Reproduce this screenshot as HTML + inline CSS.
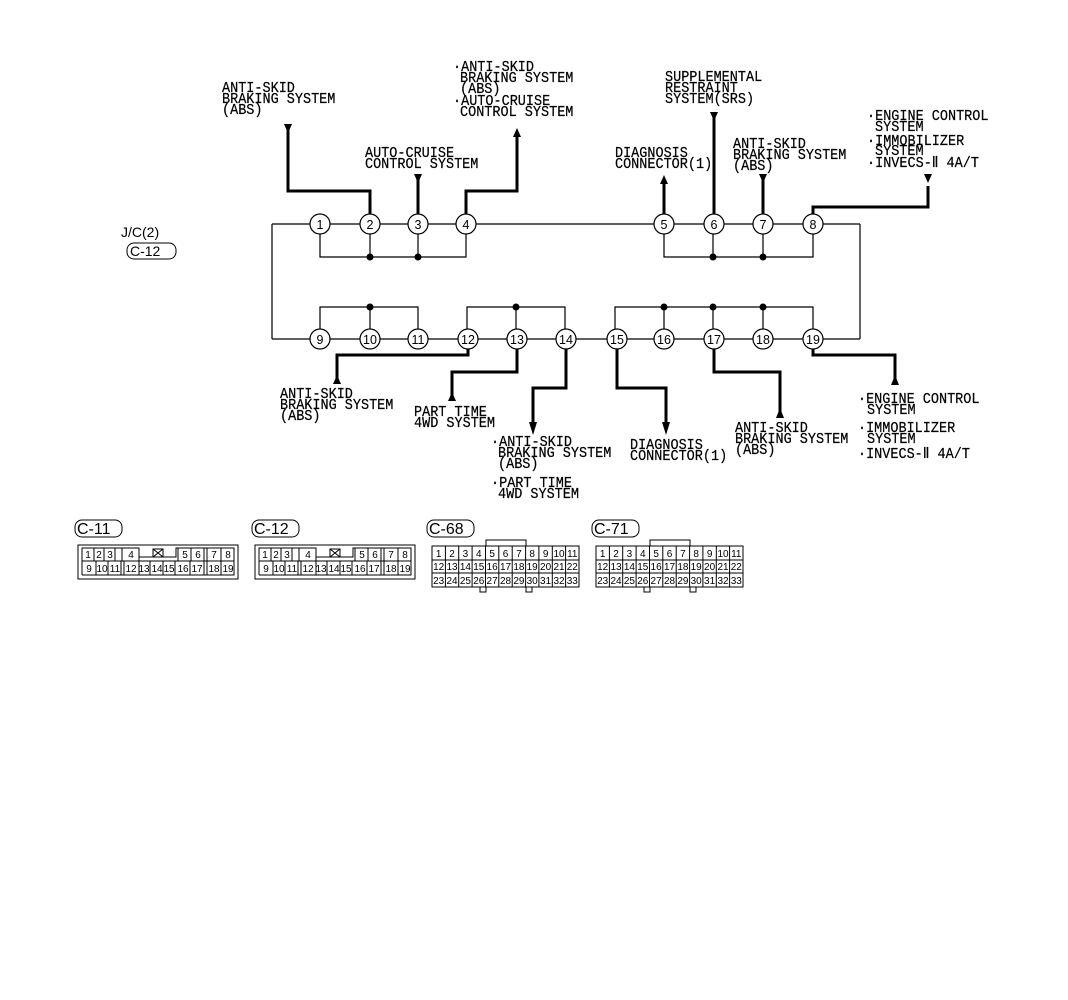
<!DOCTYPE html>
<html><head><meta charset="utf-8">
<style>
html,body{margin:0;padding:0;background:#fff;}
svg{display:block;}
text{font-family:"Liberation Mono",monospace;font-size:13.5px;fill:#000;stroke:#000;stroke-width:0.2;transform-box:fill-box;transform-origin:0 80%;transform:scaleY(1.1);}
.s{font-family:"Liberation Sans",sans-serif;font-size:14px;stroke:none;transform:none;}
.c{font-family:"Liberation Sans",sans-serif;font-size:10px;text-anchor:middle;stroke:none;transform:none;}
.n{font-family:"Liberation Sans",sans-serif;font-size:12.5px;text-anchor:middle;stroke:none;transform:none;}
</style></head><body>
<svg width="1068" height="1000" viewBox="0 0 1068 1000" xmlns="http://www.w3.org/2000/svg">
<g fill="none" stroke="#000" stroke-width="1.2">
 <line x1="272" y1="224" x2="860" y2="224"/>
 <line x1="272" y1="224" x2="272" y2="339"/>
 <line x1="860" y1="224" x2="860" y2="339"/>
 <line x1="272" y1="339" x2="860" y2="339"/>
 <polyline points="320,224 320,257 466,257 466,224"/>
 <line x1="370" y1="224" x2="370" y2="257"/>
 <line x1="418" y1="224" x2="418" y2="257"/>
 <polyline points="664,224 664,257 813,257 813,224"/>
 <line x1="713" y1="224" x2="713" y2="257"/>
 <line x1="763" y1="224" x2="763" y2="257"/>
 <polyline points="320,339 320,307 418,307 418,339"/>
 <line x1="370" y1="307" x2="370" y2="339"/>
 <polyline points="467,339 467,307 565,307 565,339"/>
 <line x1="516" y1="307" x2="516" y2="339"/>
 <polyline points="615,339 615,307 813,307 813,339"/>
 <line x1="664" y1="307" x2="664" y2="339"/>
 <line x1="713" y1="307" x2="713" y2="339"/>
 <line x1="763" y1="307" x2="763" y2="339"/>
</g>
<g fill="#000">
 <circle cx="370" cy="257" r="3.5"/><circle cx="418" cy="257" r="3.5"/>
 <circle cx="713" cy="257" r="3.5"/><circle cx="763" cy="257" r="3.5"/>
 <circle cx="370" cy="307" r="3.5"/><circle cx="516" cy="307" r="3.5"/>
 <circle cx="664" cy="307" r="3.5"/><circle cx="713" cy="307" r="3.5"/><circle cx="763" cy="307" r="3.5"/>
</g>
<g fill="none" stroke="#000" stroke-width="3">
 <polyline points="370,214 370,191 288,191 288,128"/>
 <line x1="418" y1="214" x2="418" y2="178"/>
 <polyline points="466,214 466,191 517,191 517,134"/>
 <line x1="664" y1="214" x2="664" y2="182"/>
 <line x1="714" y1="214" x2="714" y2="115"/>
 <line x1="763" y1="214" x2="763" y2="178"/>
 <polyline points="813,214 813,207 928,207 928,186"/>
 <polyline points="468,349 468,355 337,355 337,382"/>
 <polyline points="517,349 517,372 452,372 452,398"/>
 <polyline points="566,349 566,388 533,388 533,426"/>
 <polyline points="617,349 617,388 666,388 666,426"/>
 <polyline points="714,349 714,372 780,372 780,414"/>
 <polyline points="813,349 813,355 895,355 895,381"/>
</g>
<g fill="#000">
 <polygon points="284,124 292,124 288,133"/>
 <polygon points="414,174 422,174 418,183"/>
 <polygon points="513,137 521,137 517,128"/>
 <polygon points="660,184 668,184 664,175"/>
 <polygon points="710,112 718,112 714,121"/>
 <polygon points="759,174 767,174 763,183"/>
 <polygon points="924,174 932,174 928,183"/>
 <polygon points="333,384 341,384 337,375"/>
 <polygon points="448,401 456,401 452,392"/>
 <polygon points="529,422 537,422 533,435"/>
 <polygon points="662,422 670,422 666,435"/>
 <polygon points="776,418 784,418 780,408"/>
 <polygon points="891,385 899,385 895,375"/>
</g>
<g fill="#fff" stroke="#000" stroke-width="1.2">
 <circle cx="320" cy="224" r="10"/><circle cx="370" cy="224" r="10"/><circle cx="418" cy="224" r="10"/><circle cx="466" cy="224" r="10"/>
 <circle cx="664" cy="224" r="10"/><circle cx="714" cy="224" r="10"/><circle cx="763" cy="224" r="10"/><circle cx="813" cy="224" r="10"/>
 <circle cx="320" cy="339" r="10"/><circle cx="370" cy="339" r="10"/><circle cx="418" cy="339" r="10"/><circle cx="468" cy="339" r="10"/>
 <circle cx="517" cy="339" r="10"/><circle cx="566" cy="339" r="10"/><circle cx="617" cy="339" r="10"/><circle cx="664" cy="339" r="10"/>
 <circle cx="714" cy="339" r="10"/><circle cx="763" cy="339" r="10"/><circle cx="813" cy="339" r="10"/>
</g>
<g>
 <text class="n" x="320" y="229">1</text><text class="n" x="370" y="229">2</text><text class="n" x="418" y="229">3</text><text class="n" x="466" y="229">4</text>
 <text class="n" x="664" y="229">5</text><text class="n" x="714" y="229">6</text><text class="n" x="763" y="229">7</text><text class="n" x="813" y="229">8</text>
 <text class="n" x="320" y="344">9</text><text class="n" x="370" y="344">10</text><text class="n" x="418" y="344">11</text><text class="n" x="468" y="344">12</text>
 <text class="n" x="517" y="344">13</text><text class="n" x="566" y="344">14</text><text class="n" x="617" y="344">15</text><text class="n" x="664" y="344">16</text>
 <text class="n" x="714" y="344">17</text><text class="n" x="763" y="344">18</text><text class="n" x="813" y="344">19</text>
</g>
<text x="222" y="92">ANTI-SKID</text><text x="222" y="103">BRAKING SYSTEM</text><text x="222" y="114">(ABS)</text>
<text x="453" y="71">·ANTI-SKID</text><text x="460" y="82">BRAKING SYSTEM</text><text x="460" y="93">(ABS)</text>
<text x="453" y="105">·AUTO-CRUISE</text><text x="460" y="116">CONTROL SYSTEM</text>
<text x="365" y="157">AUTO-CRUISE</text><text x="365" y="168">CONTROL SYSTEM</text>
<text x="665" y="81">SUPPLEMENTAL</text><text x="665" y="92">RESTRAINT</text><text x="665" y="103">SYSTEM(SRS)</text>
<text x="615" y="157">DIAGNOSIS</text><text x="615" y="168">CONNECTOR(1)</text>
<text x="733" y="148">ANTI-SKID</text><text x="733" y="159">BRAKING SYSTEM</text><text x="733" y="170">(ABS)</text>
<text x="867" y="120">·ENGINE CONTROL</text><text x="875" y="131">SYSTEM</text>
<text x="867" y="145">·IMMOBILIZER</text><text x="875" y="155">SYSTEM</text>
<text x="867" y="167">·INVECS-Ⅱ 4A/T</text>
<text class="s" x="121" y="237">J/C(2)</text>
<rect x="127" y="243" width="49" height="16" rx="7" fill="none" stroke="#000" stroke-width="1"/>
<text class="s" x="130" y="256">C-12</text>
<text x="280" y="398">ANTI-SKID</text><text x="280" y="409">BRAKING SYSTEM</text><text x="280" y="420">(ABS)</text>
<text x="414" y="416">PART TIME</text><text x="414" y="427">4WD SYSTEM</text>
<text x="491" y="446">·ANTI-SKID</text><text x="498" y="457">BRAKING SYSTEM</text><text x="498" y="468">(ABS)</text>
<text x="491" y="487">·PART TIME</text><text x="498" y="498">4WD SYSTEM</text>
<text x="630" y="449">DIAGNOSIS</text><text x="630" y="460">CONNECTOR(1)</text>
<text x="735" y="432">ANTI-SKID</text><text x="735" y="443">BRAKING SYSTEM</text><text x="735" y="454">(ABS)</text>
<text x="858" y="403">·ENGINE CONTROL</text><text x="867" y="414">SYSTEM</text>
<text x="858" y="432">·IMMOBILIZER</text><text x="867" y="443">SYSTEM</text>
<text x="858" y="458">·INVECS-Ⅱ 4A/T</text>

<g fill="none" stroke="#000" stroke-width="1">
 <rect x="75" y="520" width="47" height="17" rx="7"/>
 <rect x="252" y="520" width="47" height="17" rx="7"/>
 <rect x="427" y="520" width="47" height="17" rx="7"/>
 <rect x="592" y="520" width="47" height="17" rx="7"/>
</g>
<text class="s" x="77" y="534" style="font-size:16px">C-11</text>
<text class="s" x="254" y="534" style="font-size:16px">C-12</text>
<text class="s" x="429" y="534" style="font-size:16px">C-68</text>
<text class="s" x="594" y="534" style="font-size:16px">C-71</text>

<g fill="none" stroke="#000" stroke-width="1">
 <rect x="78" y="545" width="160" height="34"/>
 <polyline points="82,575 82,548 139,548 139,557 176,557 176,548 234,548 234,575 82,575"/>
 <line x1="82" y1="561" x2="234" y2="561"/>
 <line x1="94" y1="548" x2="94" y2="561"/><line x1="104" y1="548" x2="104" y2="561"/><line x1="115" y1="548" x2="115" y2="561"/>
 <line x1="122" y1="548" x2="122" y2="561"/><line x1="139" y1="548" x2="139" y2="575"/>
 <line x1="178" y1="548" x2="178" y2="561"/><line x1="191" y1="548" x2="191" y2="561"/><line x1="204" y1="548" x2="204" y2="575"/>
 <line x1="207" y1="548" x2="207" y2="575"/><line x1="221" y1="548" x2="221" y2="575"/>
 <line x1="96" y1="561" x2="96" y2="575"/><line x1="108" y1="561" x2="108" y2="575"/><line x1="121" y1="561" x2="121" y2="575"/>
 <line x1="124" y1="561" x2="124" y2="575"/><line x1="150" y1="561" x2="150" y2="575"/><line x1="163" y1="561" x2="163" y2="575"/>
 <line x1="175" y1="561" x2="175" y2="575"/><line x1="190" y1="561" x2="190" y2="575"/>
 <rect x="153" y="549" width="10" height="8"/><line x1="153" y1="549" x2="163" y2="557"/><line x1="163" y1="549" x2="153" y2="557"/>
</g>
<g>
 <text class="c" x="88" y="558">1</text><text class="c" x="99" y="558">2</text><text class="c" x="110" y="558">3</text><text class="c" x="131" y="558">4</text>
 <text class="c" x="185" y="558">5</text><text class="c" x="198" y="558">6</text><text class="c" x="214" y="558">7</text><text class="c" x="228" y="558">8</text>
 <text class="c" x="89" y="572">9</text><text class="c" x="102" y="572">10</text><text class="c" x="115" y="572">11</text><text class="c" x="131" y="572">12</text>
 <text class="c" x="144" y="572">13</text><text class="c" x="157" y="572">14</text><text class="c" x="169" y="572">15</text><text class="c" x="183" y="572">16</text>
 <text class="c" x="197" y="572">17</text><text class="c" x="214" y="572">18</text><text class="c" x="228" y="572">19</text>
</g>
<g transform="translate(177,0)">
<g fill="none" stroke="#000" stroke-width="1">
 <rect x="78" y="545" width="160" height="34"/>
 <polyline points="82,575 82,548 139,548 139,557 176,557 176,548 234,548 234,575 82,575"/>
 <line x1="82" y1="561" x2="234" y2="561"/>
 <line x1="94" y1="548" x2="94" y2="561"/><line x1="104" y1="548" x2="104" y2="561"/><line x1="115" y1="548" x2="115" y2="561"/>
 <line x1="122" y1="548" x2="122" y2="561"/><line x1="139" y1="548" x2="139" y2="575"/>
 <line x1="178" y1="548" x2="178" y2="561"/><line x1="191" y1="548" x2="191" y2="561"/><line x1="204" y1="548" x2="204" y2="575"/>
 <line x1="207" y1="548" x2="207" y2="575"/><line x1="221" y1="548" x2="221" y2="575"/>
 <line x1="96" y1="561" x2="96" y2="575"/><line x1="108" y1="561" x2="108" y2="575"/><line x1="121" y1="561" x2="121" y2="575"/>
 <line x1="124" y1="561" x2="124" y2="575"/><line x1="150" y1="561" x2="150" y2="575"/><line x1="163" y1="561" x2="163" y2="575"/>
 <line x1="175" y1="561" x2="175" y2="575"/><line x1="190" y1="561" x2="190" y2="575"/>
 <rect x="153" y="549" width="10" height="8"/><line x1="153" y1="549" x2="163" y2="557"/><line x1="163" y1="549" x2="153" y2="557"/>
</g>
 <text class="c" x="88" y="558">1</text><text class="c" x="99" y="558">2</text><text class="c" x="110" y="558">3</text><text class="c" x="131" y="558">4</text>
 <text class="c" x="185" y="558">5</text><text class="c" x="198" y="558">6</text><text class="c" x="214" y="558">7</text><text class="c" x="228" y="558">8</text>
 <text class="c" x="89" y="572">9</text><text class="c" x="102" y="572">10</text><text class="c" x="115" y="572">11</text><text class="c" x="131" y="572">12</text>
 <text class="c" x="144" y="572">13</text><text class="c" x="157" y="572">14</text><text class="c" x="169" y="572">15</text><text class="c" x="183" y="572">16</text>
 <text class="c" x="197" y="572">17</text><text class="c" x="214" y="572">18</text><text class="c" x="228" y="572">19</text>
</g>

<g>
<g fill="none" stroke="#000" stroke-width="1">
 <rect x="432" y="546" width="147" height="41"/>
 <polyline points="486,546 486,540 526,540 526,546"/>
 <polyline points="480,587 480,592 486,592 486,587"/>
 <polyline points="526,587 526,592 532,592 532,587"/>
 <line x1="432" y1="560" x2="579" y2="560"/><line x1="432" y1="573" x2="579" y2="573"/>
 <line x1="445.4" y1="546" x2="445.4" y2="587"/><line x1="458.7" y1="546" x2="458.7" y2="587"/><line x1="472.1" y1="546" x2="472.1" y2="587"/>
 <line x1="485.5" y1="546" x2="485.5" y2="587"/><line x1="498.8" y1="546" x2="498.8" y2="587"/><line x1="512.2" y1="546" x2="512.2" y2="587"/>
 <line x1="525.6" y1="546" x2="525.6" y2="587"/><line x1="538.9" y1="546" x2="538.9" y2="587"/><line x1="552.3" y1="546" x2="552.3" y2="587"/>
 <line x1="565.6" y1="546" x2="565.6" y2="587"/>
</g>
 <text class="c" x="438.7" y="557">1</text><text class="c" x="452" y="557">2</text><text class="c" x="465.4" y="557">3</text><text class="c" x="478.8" y="557">4</text>
 <text class="c" x="492.1" y="557">5</text><text class="c" x="505.5" y="557">6</text><text class="c" x="518.9" y="557">7</text><text class="c" x="532.2" y="557">8</text>
 <text class="c" x="545.6" y="557">9</text><text class="c" x="559" y="557">10</text><text class="c" x="572.3" y="557">11</text>
 <text class="c" x="438.7" y="570">12</text><text class="c" x="452" y="570">13</text><text class="c" x="465.4" y="570">14</text><text class="c" x="478.8" y="570">15</text>
 <text class="c" x="492.1" y="570">16</text><text class="c" x="505.5" y="570">17</text><text class="c" x="518.9" y="570">18</text><text class="c" x="532.2" y="570">19</text>
 <text class="c" x="545.6" y="570">20</text><text class="c" x="559" y="570">21</text><text class="c" x="572.3" y="570">22</text>
 <text class="c" x="438.7" y="584">23</text><text class="c" x="452" y="584">24</text><text class="c" x="465.4" y="584">25</text><text class="c" x="478.8" y="584">26</text>
 <text class="c" x="492.1" y="584">27</text><text class="c" x="505.5" y="584">28</text><text class="c" x="518.9" y="584">29</text><text class="c" x="532.2" y="584">30</text>
 <text class="c" x="545.6" y="584">31</text><text class="c" x="559" y="584">32</text><text class="c" x="572.3" y="584">33</text>
</g>
<g transform="translate(164,0)">
<g fill="none" stroke="#000" stroke-width="1">
 <rect x="432" y="546" width="147" height="41"/>
 <polyline points="486,546 486,540 526,540 526,546"/>
 <polyline points="480,587 480,592 486,592 486,587"/>
 <polyline points="526,587 526,592 532,592 532,587"/>
 <line x1="432" y1="560" x2="579" y2="560"/><line x1="432" y1="573" x2="579" y2="573"/>
 <line x1="445.4" y1="546" x2="445.4" y2="587"/><line x1="458.7" y1="546" x2="458.7" y2="587"/><line x1="472.1" y1="546" x2="472.1" y2="587"/>
 <line x1="485.5" y1="546" x2="485.5" y2="587"/><line x1="498.8" y1="546" x2="498.8" y2="587"/><line x1="512.2" y1="546" x2="512.2" y2="587"/>
 <line x1="525.6" y1="546" x2="525.6" y2="587"/><line x1="538.9" y1="546" x2="538.9" y2="587"/><line x1="552.3" y1="546" x2="552.3" y2="587"/>
 <line x1="565.6" y1="546" x2="565.6" y2="587"/>
</g>
 <text class="c" x="438.7" y="557">1</text><text class="c" x="452" y="557">2</text><text class="c" x="465.4" y="557">3</text><text class="c" x="478.8" y="557">4</text>
 <text class="c" x="492.1" y="557">5</text><text class="c" x="505.5" y="557">6</text><text class="c" x="518.9" y="557">7</text><text class="c" x="532.2" y="557">8</text>
 <text class="c" x="545.6" y="557">9</text><text class="c" x="559" y="557">10</text><text class="c" x="572.3" y="557">11</text>
 <text class="c" x="438.7" y="570">12</text><text class="c" x="452" y="570">13</text><text class="c" x="465.4" y="570">14</text><text class="c" x="478.8" y="570">15</text>
 <text class="c" x="492.1" y="570">16</text><text class="c" x="505.5" y="570">17</text><text class="c" x="518.9" y="570">18</text><text class="c" x="532.2" y="570">19</text>
 <text class="c" x="545.6" y="570">20</text><text class="c" x="559" y="570">21</text><text class="c" x="572.3" y="570">22</text>
 <text class="c" x="438.7" y="584">23</text><text class="c" x="452" y="584">24</text><text class="c" x="465.4" y="584">25</text><text class="c" x="478.8" y="584">26</text>
 <text class="c" x="492.1" y="584">27</text><text class="c" x="505.5" y="584">28</text><text class="c" x="518.9" y="584">29</text><text class="c" x="532.2" y="584">30</text>
 <text class="c" x="545.6" y="584">31</text><text class="c" x="559" y="584">32</text><text class="c" x="572.3" y="584">33</text>
</g>
</svg>
</body></html>
